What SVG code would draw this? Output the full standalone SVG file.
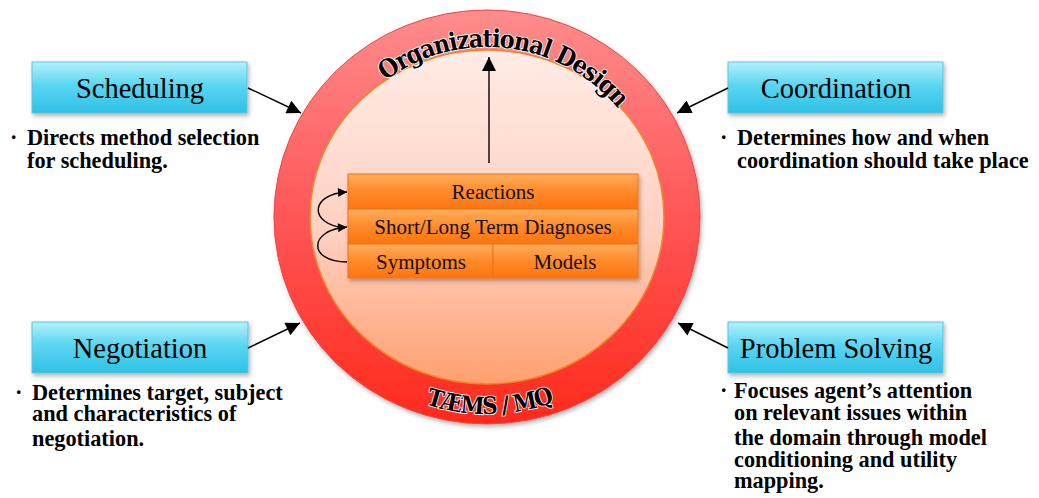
<svg xmlns="http://www.w3.org/2000/svg" width="1039" height="498" viewBox="0 0 1039 498">
<style>
.lbl{font-family:"Liberation Serif","Times New Roman",serif;font-size:28.5px;fill:#000;text-anchor:middle}
.bul{font-family:"Liberation Serif","Times New Roman",serif;font-size:22.3px;font-weight:bold;fill:#000}
.cell{font-family:"Liberation Serif","Times New Roman",serif;font-size:21px;fill:#111;text-anchor:middle}
.arc{font-family:"DejaVu Serif","Liberation Serif",serif;font-stretch:condensed;font-weight:bold;fill:#000;stroke:#fff;stroke-width:1.6px;paint-order:stroke}
.box{fill:url(#cyan);stroke:#5cc4dc;stroke-width:1}
.row{fill:url(#orange);stroke:#e8761c;stroke-width:1}
.conn{stroke:#000;stroke-width:1.4;fill:none}
</style>
<defs>
<linearGradient id="cyan" x1="0" y1="0" x2="0" y2="1">
<stop offset="0" stop-color="#b4f0fb"/>
<stop offset="0.45" stop-color="#5ad6f2"/>
<stop offset="1" stop-color="#2fc0e4"/>
</linearGradient>
<linearGradient id="orange" x1="0" y1="0" x2="0" y2="1">
<stop offset="0" stop-color="#ffae5c"/>
<stop offset="0.5" stop-color="#ff8a2a"/>
<stop offset="1" stop-color="#ff7410"/>
</linearGradient>
<linearGradient id="ring" x1="0" y1="0" x2="0" y2="1">
<stop offset="0" stop-color="#ff8c8c"/>
<stop offset="0.5" stop-color="#ff5656"/>
<stop offset="1" stop-color="#ff2a1c"/>
</linearGradient>
<linearGradient id="inner" x1="0" y1="0" x2="0" y2="1">
<stop offset="0" stop-color="#ffece6"/>
<stop offset="0.55" stop-color="#ffd0c0"/>
<stop offset="1" stop-color="#ffa070"/>
</linearGradient>
<filter id="sh" x="-10%" y="-10%" width="125%" height="130%">
<feDropShadow dx="1.5" dy="2.5" stdDeviation="2" flood-color="#000" flood-opacity="0.3"/>
</filter>
<marker id="ah" viewBox="0 0 10 10" refX="10" refY="5" markerWidth="16" markerHeight="14" markerUnits="userSpaceOnUse" orient="auto">
<path d="M0,0 L10,5 L0,10 z" fill="#000"/>
</marker>
<marker id="ahs" viewBox="0 0 10 10" refX="10" refY="5" markerWidth="10" markerHeight="9" markerUnits="userSpaceOnUse" orient="auto">
<path d="M0,0 L10,5 L0,10 z" fill="#000"/>
</marker>
<path id="topArc" d="M 317 217 A 170 170 0 0 1 657 217"/>
<path id="botArc" d="M 290 217 A 197 197 0 0 0 684 217"/>
</defs>

<g id="circle">
<ellipse cx="487" cy="217" rx="213" ry="207" fill="url(#ring)" stroke="#e84848" stroke-width="1" filter="url(#sh)"/>
<ellipse cx="487" cy="217" rx="177" ry="167" fill="url(#inner)" stroke="#f0862c" stroke-width="1.5"/>
<text class="arc" font-size="25" letter-spacing="-1.2"><textPath href="#topArc" startOffset="53.7%" text-anchor="middle">Organizational Design</textPath></text>
<text class="arc" font-size="24" letter-spacing="-1.5"><textPath href="#botArc" startOffset="50.4%" text-anchor="middle">TÆMS / MQ</textPath></text>
</g>

<g id="stack" filter="url(#sh)">
<rect class="row" x="348" y="174" width="290" height="35"/>
<rect class="row" x="348" y="209" width="290" height="35"/>
<rect class="row" x="348" y="244" width="145" height="34"/>
<rect class="row" x="493" y="244" width="145" height="34"/>
</g>
<g id="reactions"><text class="cell" x="493" y="199">Reactions</text></g>
<g id="diagnoses"><text class="cell" x="493" y="234">Short/Long Term Diagnoses</text></g>
<g id="symptoms"><text class="cell" x="421" y="269">Symptoms</text></g>
<g id="models"><text class="cell" x="565" y="269">Models</text></g>

<g id="scheduling">
<rect class="box" x="32" y="62" width="215" height="51" filter="url(#sh)"/>
<text class="lbl" x="140" y="98">Scheduling</text>
<text class="bul" x="10" y="145">·</text>
<text class="bul" x="27" y="145">Directs method selection</text>
<text class="bul" x="27" y="168">for scheduling.</text>
</g>

<g id="coordination">
<rect class="box" x="728" y="62" width="215" height="51" filter="url(#sh)"/>
<text class="lbl" x="836" y="98">Coordination</text>
<text class="bul" x="720" y="145">·</text>
<text class="bul" x="737" y="145">Determines how and when</text>
<text class="bul" x="737" y="168">coordination should take place</text>
</g>

<g id="negotiation">
<rect class="box" x="32" y="322" width="216" height="51" filter="url(#sh)"/>
<text class="lbl" x="140" y="358">Negotiation</text>
<text class="bul" x="15" y="400">·</text>
<text class="bul" x="32" y="400">Determines target, subject</text>
<text class="bul" x="32" y="421">and characteristics of</text>
<text class="bul" x="32" y="446">negotiation.</text>
</g>

<g id="problem-solving">
<rect class="box" x="728" y="322" width="215" height="51" filter="url(#sh)"/>
<text class="lbl" x="836" y="358">Problem Solving</text>
<text class="bul" x="720" y="398">·</text>
<text class="bul" x="734" y="398">Focuses agent’s attention</text>
<text class="bul" x="734" y="420">on relevant issues within</text>
<text class="bul" x="734" y="445">the domain through model</text>
<text class="bul" x="734" y="467">conditioning and utility</text>
<text class="bul" x="734" y="488">mapping.</text>
</g>

<g id="connectors">
<line class="conn" x1="248" y1="88" x2="301" y2="113" marker-end="url(#ah)"/>
<line class="conn" x1="728" y1="88" x2="677" y2="113" marker-end="url(#ah)"/>
<line class="conn" x1="248" y1="348" x2="300" y2="323" marker-end="url(#ah)"/>
<line class="conn" x1="728" y1="348" x2="678" y2="323" marker-end="url(#ah)"/>
<line class="conn" x1="489" y1="163" x2="489" y2="57" marker-end="url(#ah)"/>
<path class="conn" stroke-width="1.2" d="M 345 228 C 308 224, 310 194, 347 192" marker-end="url(#ahs)"/>
<path class="conn" stroke-width="1.2" d="M 347 262 C 308 262, 308 230, 347 227" marker-end="url(#ahs)"/>
</g>
</svg>
